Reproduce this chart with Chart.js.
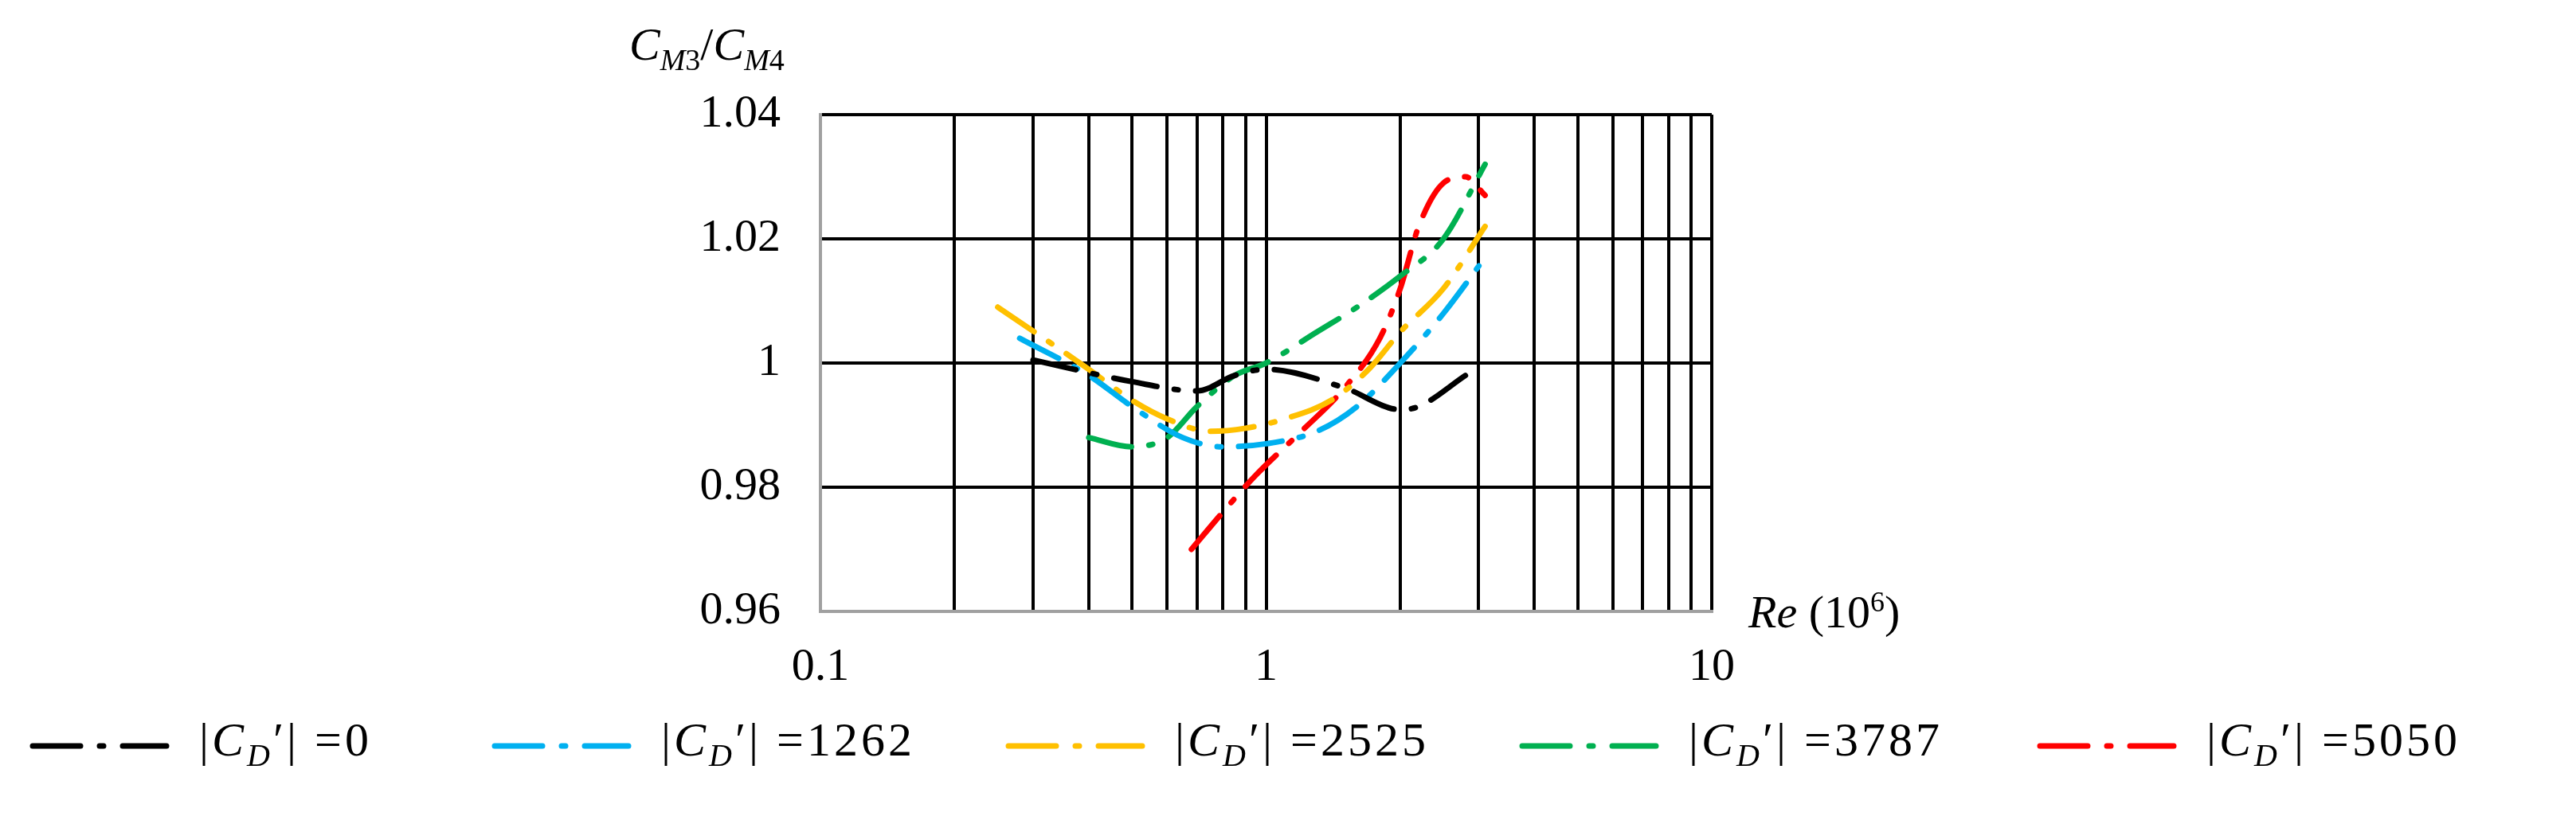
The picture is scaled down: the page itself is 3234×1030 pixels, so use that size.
<!DOCTYPE html>
<html><head><meta charset="utf-8">
<script src="https://cdn.jsdelivr.net/npm/chart.js@4"></script>
<style>
body{margin:0;background:#fff;width:3234px;height:1030px;overflow:hidden;position:relative;font-family:"Liberation Serif",serif}
#wrap{position:absolute;left:0;top:0;width:3234px;height:1030px}
.t{position:absolute;font-size:60px;color:#000;white-space:nowrap}
.leg{position:absolute;top:907px;height:60px}
</style></head><body>
<div id="wrap"><canvas id="c" width="3234" height="1030"></canvas></div>
<div class="t" style="left:790px;top:22px;font-size:58px"><i>C</i><sub style="font-size:38px"><i>M</i>3</sub>/<i>C</i><sub style="font-size:38px"><i>M</i>4</sub></div>
<div class="t" style="left:2195px;top:735px;font-size:58px"><i>Re</i> (10<sup style="font-size:36px">6</sup>)</div>
<div id="legend"></div>
<script>
const seriesNames=["|C_D'| =0","|C_D'| =1262","|C_D'| =2525","|C_D'| =3787","|C_D'| =5050"];
const seriesColors=["#000000","#00b0f0","#ffc000","#00b050","#ff0000"];
const x0=[0.3,0.5,0.7,0.85,1.0,1.5,2.0,2.2,2.8];
const y0=[1.0005,0.997,0.9955,0.998,0.999,0.996,0.9925,0.993,0.998];
const x1=[0.28,0.4,0.5,0.65,0.8,1.0,1.3,1.6,2.0,2.5,3.1];
const y1=[1.004,0.998,0.993,0.988,0.9865,0.987,0.989,0.993,1.0,1.008,1.017];
const x2=[0.25,0.4,0.5,0.6,0.75,0.9,1.1,1.4,1.7,2.0,2.5,3.1];
const y2=[1.009,0.999,0.994,0.991,0.989,0.9895,0.991,0.994,0.999,1.005,1.012,1.022];
const x3=[0.4,0.5,0.6,0.7,0.85,1.0,1.3,1.6,2.0,2.5,3.1];
const y3=[0.988,0.9865,0.988,0.993,0.998,1.0,1.005,1.009,1.014,1.02,1.032];
const x4=[0.68,0.8,0.95,1.2,1.5,1.8,2.0,2.2,2.5,2.8,3.1];
const y4=[0.970,0.976,0.982,0.989,0.996,1.004,1.012,1.022,1.029,1.030,1.027];
const xTickLabels=[0.1,1,10];
const yTicks=[0.96,0.98,1.0,1.02,1.04];
const xs=[x0,x1,x2,x3,x4], ys=[y0,y1,y2,y3,y4];
const dash=[55,22,5,22];
const datasets=xs.map((xa,i)=>({label:seriesNames[i],data:xa.map((x,j)=>({x:x,y:ys[i][j]})),borderColor:seriesColors[i],borderWidth:7,borderDash:dash,borderCapStyle:'round',pointRadius:0,fill:false,cubicInterpolationMode:'monotone'}));
new Chart(document.getElementById('c'),{type:'line',data:{datasets},
options:{responsive:false,animation:false,
layout:{padding:{left:780,right:1085,top:144,bottom:132}},
plugins:{legend:{display:false},tooltip:{enabled:false}},
scales:{
x:{type:'logarithmic',min:0.1,max:10,
 afterFit:s=>{s.height=130},
 afterBuildTicks:s=>{const t=[];for(let d of [0.1,1]){for(let k=1;k<10;k++)t.push({value:+(d*k).toPrecision(3)})}t.push({value:10});s.ticks=t;},
 ticks:{autoSkip:false,maxRotation:0,padding:36,color:'#000',font:{family:'Liberation Serif',size:58},callback:v=>xTickLabels.includes(+v)?String(v):''},
 grid:{color:'#000',lineWidth:4,drawTicks:false},border:{color:'#a0a0a0',width:4}},
y:{min:0.96,max:1.04,
 afterFit:s=>{s.width=250},
 afterBuildTicks:s=>{s.ticks=yTicks.map(v=>({value:v}))},
 ticks:{padding:50,color:'#000',font:{family:'Liberation Serif',size:58},callback:v=>{const r=Math.round(v*100)/100;return r===1?'1':r.toFixed(2)}},
 grid:{color:'#000',lineWidth:4,drawTicks:false},border:{color:'#a0a0a0',width:4}}
}}});
const legX=[35,615,1260,1905,2555];
const L=document.getElementById('legend');
seriesNames.forEach((n,i)=>{
 const num=n.split('=')[1];
 L.insertAdjacentHTML('beforeend',`<svg class="leg" style="left:${legX[i]}px" width="180" height="60"><line x1="6" y1="30" x2="174" y2="30" stroke="${seriesColors[i]}" stroke-width="7" stroke-dasharray="60 24 5 24" stroke-linecap="round"/></svg><div class="t" style="left:${legX[i]+215}px;top:895px;letter-spacing:4px">|<i>C</i><sub style="font-size:40px"><i>D</i></sub>′| =${num}</div>`);
});
</script>
</body></html>
